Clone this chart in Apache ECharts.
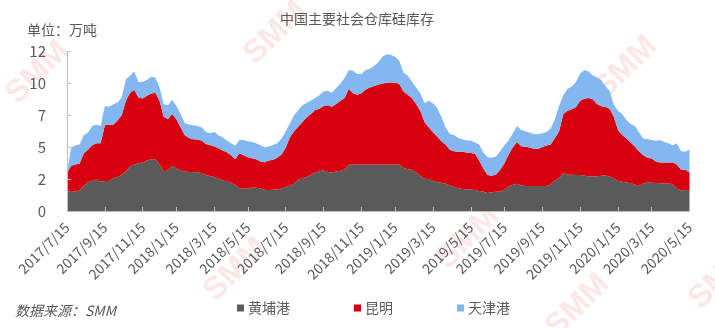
<!DOCTYPE html>
<html>
<head>
<meta charset="utf-8">
<script src="https://cdn.jsdelivr.net/npm/echarts@6/dist/echarts.min.js"></script>
<style>
html,body{margin:0;padding:0;background:#fff;}
#chart{width:715px;height:328px;}
</style>
</head>
<body>
<div id="chart"></div>
<script>
// Weekly stock (10k tonnes) from 2017/7/15
const huangpu = [1.46,1.5,1.46,1.56,1.88,2.19,2.26,2.39,2.2,2.26,2.26,2.46,2.56,2.7,3.0,3.34,3.5,3.6,3.67,3.8,3.9,3.9,3.5,3.0,3.05,3.4,3.2,3.05,2.98,2.94,2.94,2.9,2.85,2.7,2.63,2.55,2.42,2.32,2.23,2.1,1.97,1.69,1.69,1.69,1.76,1.74,1.69,1.6,1.58,1.6,1.62,1.69,1.78,1.92,2.05,2.37,2.45,2.58,2.73,2.92,3.0,3.07,2.94,2.9,2.98,3.02,3.12,3.48,3.5,3.5,3.5,3.5,3.5,3.5,3.5,3.5,3.5,3.5,3.5,3.5,3.25,3.15,3.1,2.9,2.65,2.45,2.38,2.27,2.18,2.13,2.06,1.92,1.82,1.72,1.66,1.63,1.62,1.58,1.5,1.45,1.35,1.42,1.45,1.47,1.6,1.85,1.98,2.05,1.92,1.88,1.88,1.88,1.88,1.88,1.88,2.0,2.3,2.5,2.85,2.75,2.72,2.7,2.7,2.68,2.6,2.6,2.62,2.65,2.68,2.6,2.45,2.28,2.2,2.15,2.1,2.0,1.88,2.05,2.18,2.12,2.1,2.09,2.09,2.09,2.0,1.7,1.55,1.58,1.58];
const kunming = [1.39,1.9,2.04,2.02,2.47,2.41,2.69,2.71,2.9,4.19,4.22,4.02,4.24,4.5,5.3,5.56,5.6,4.94,4.8,4.87,4.94,5.0,4.8,4.1,3.85,3.89,3.7,3.25,2.72,2.56,2.46,2.48,2.45,2.35,2.34,2.3,2.3,2.23,2.19,2.1,1.93,2.66,2.51,2.36,2.2,2.16,2.03,2.07,2.22,2.25,2.38,2.56,2.97,3.63,3.95,3.98,4.25,4.47,4.57,4.68,4.7,4.83,5.01,4.95,5.07,5.28,5.38,5.72,5.35,5.25,5.35,5.65,5.8,5.9,6.0,6.1,6.15,6.17,6.17,6.05,5.75,5.6,5.4,5.15,4.9,4.25,3.92,3.68,3.42,3.12,2.94,2.68,2.68,2.73,2.79,2.77,2.74,2.72,2.3,1.75,1.35,1.23,1.3,1.63,2.0,2.4,2.82,3.15,2.96,2.96,2.89,2.8,2.79,2.94,3.04,3.0,3.2,3.5,4.45,4.8,4.93,5.1,5.6,5.77,5.9,5.8,5.43,5.23,5.17,5.1,4.65,3.82,3.52,3.3,3.05,2.85,2.62,2.15,1.82,1.83,1.62,1.55,1.55,1.55,1.64,1.8,1.55,1.52,1.32];
const tianjin = [0.05,1.37,1.45,1.42,1.35,1.3,1.45,1.4,1.3,1.45,1.36,1.56,1.37,1.34,1.6,1.3,1.4,1.16,1.25,1.18,1.26,1.15,1.0,0.94,1.06,1.08,1.0,1.0,0.9,1.0,1.05,1.02,1.0,0.9,0.88,1.1,0.98,1.0,0.88,0.9,1.0,1.0,1.15,1.2,1.24,1.2,1.23,1.13,1.05,1.12,1.1,1.2,1.25,1.05,1.2,1.25,1.25,1.1,1.0,0.9,1.0,1.1,1.1,1.05,1.2,1.3,1.5,1.4,1.7,1.55,1.45,1.45,1.4,1.5,1.7,2.0,2.15,2.08,1.93,1.75,1.4,1.45,1.25,1.25,1.3,1.4,2.0,2.15,2.15,1.85,1.3,1.2,1.22,1.05,0.95,0.9,0.94,0.85,1.2,1.2,1.35,1.35,1.35,1.4,1.35,1.05,1.05,1.2,1.22,1.16,1.11,1.12,1.11,1.03,1.03,1.2,1.4,1.9,1.4,1.65,1.7,1.9,2.05,2.15,2.0,1.8,2.0,1.97,1.55,1.35,0.9,1.45,1.58,1.4,1.4,1.55,1.4,1.25,1.4,1.4,1.56,1.71,1.56,1.46,1.31,1.6,1.4,1.35,1.7];
const seriesNames = ['黄埔港','昆明','天津港'];
const tickLabels = ['2017/7/15','2017/9/15','2017/11/15','2018/1/15','2018/3/15','2018/5/15','2018/7/15','2018/9/15','2018/11/15','2019/1/15','2019/3/15','2019/5/15','2019/7/15','2019/9/15','2019/11/15','2020/1/15','2020/3/15','2020/5/15'];
const yTickValues = [0,2.4,4.8,7.2,9.6,12];

// weekly category dates
const startUTC = Date.UTC(2017,6,15);
const WEEK = 7*86400000;
const categories = huangpu.map((_, i) => {
  const d = new Date(startUTC + i*WEEK);
  return d.getUTCFullYear() + '/' + (d.getUTCMonth()+1) + '/' + d.getUTCDate();
});
const labelAt = {};
tickLabels.forEach(t => {
  const p = t.split('/').map(Number);
  const idx = Math.round((Date.UTC(p[0], p[1]-1, p[2]) - startUTC) / WEEK);
  labelAt[idx] = t;
});
const showTick = idx => Object.prototype.hasOwnProperty.call(labelAt, idx);

const colors = ['#5b5b5b','#d7000f','#84b6f0'];
const txt = '#595959';
const font = '"Noto Sans CJK SC","Noto Sans",sans-serif';

const chart = echarts.init(document.getElementById('chart'), null, {renderer:'canvas'});

function wm(x, y) {
  return {type:'text', left:x, top:y, rotation:Math.PI/4, z:-1,
    style:{text:'SMM', fill:'rgba(230,60,60,0.12)', font:'bold 32px Arial'}};
}

chart.setOption({
  animation:false,
  color:colors,
  textStyle:{fontFamily:font},
  title:{text:'中国主要社会仓库硅库存', left:352, top:7, textAlign:'center',
    textStyle:{fontSize:14, fontWeight:'normal', color:txt, fontFamily:font}},
  graphic:[
    wm(0,35), wm(238,-5), wm(588,30), wm(198,232), wm(430,200), wm(540,268), wm(683,240),
    {type:'text', left:27, top:23, style:{text:'单位：万吨', fill:txt, font:'14px '+font}},
    {type:'text', left:15, top:304, style:{text:'数据来源：SMM', fill:txt, font:'italic 14px '+font}}
  ],
  legend:{left:232, top:296, itemWidth:7, itemHeight:7, itemGap:64, icon:'rect',
    data:seriesNames, textStyle:{fontSize:14, color:txt, fontFamily:font, padding:[0,0,0,-1]}},
  grid:{left:67, right:25.5, top:51.5, bottom:117, containLabel:false},
  xAxis:{type:'category', data:categories, boundaryGap:false, z:5,
    axisLine:{lineStyle:{color:'#bfbfbf', width:1}},
    axisTick:{show:true, inside:true, length:4, interval:showTick, lineStyle:{color:'#bfbfbf'}},
    axisLabel:{interval:showTick, rotate:45, margin:14, fontSize:14, color:txt, fontFamily:font,
      formatter:(v, i) => labelAt[i] || ''},
    splitLine:{show:false}},
  yAxis:{type:'value', min:yTickValues[0], max:yTickValues[yTickValues.length-1], interval:2.4, z:5,
    axisLine:{show:true, lineStyle:{color:'#bfbfbf'}},
    axisTick:{show:true, inside:true, length:4, lineStyle:{color:'#bfbfbf'}},
    axisLabel:{fontSize:15, color:txt, margin:21, fontFamily:font, formatter:v => String(Math.round(v))},
    splitLine:{show:false}},
  series:[huangpu, kunming, tianjin].map((d, k) => ({
    name:seriesNames[k], type:'line', stack:'total', data:d,
    symbol:'none', smooth:false, lineStyle:{width:0},
    areaStyle:{color:colors[k], opacity:1}, itemStyle:{color:colors[k]}
  }))
});
</script>
</body>
</html>
